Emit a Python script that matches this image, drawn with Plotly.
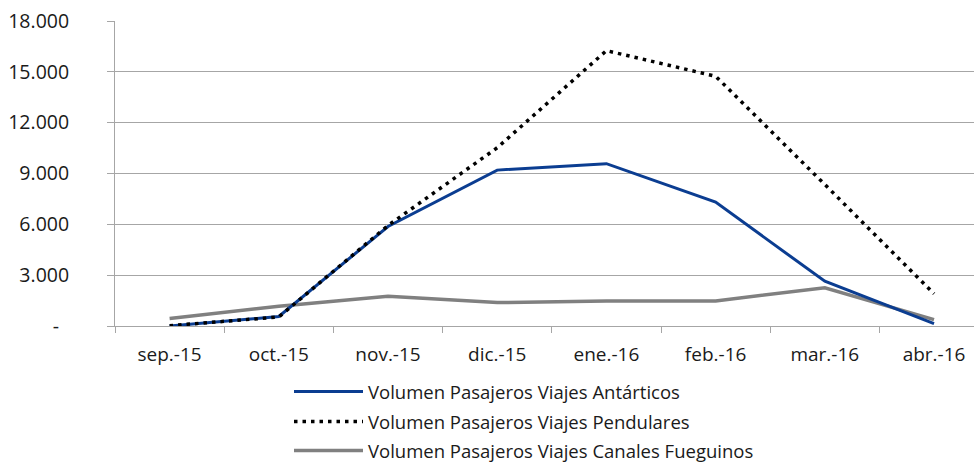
import plotly.graph_objects as go

categories = ["sep.-15", "oct.-15", "nov.-15", "dic.-15", "ene.-16", "feb.-16", "mar.-16", "abr.-16"]
antarticos = [0, 560, 5870, 9200, 9580, 7310, 2640, 140]
pendulares = [20, 530, 5930, 10520, 16250, 14740, 8350, 1900]
fueguinos = [440, 1170, 1750, 1380, 1480, 1480, 2260, 380]

series_names = [
    "Volumen Pasajeros Viajes Antárticos",
    "Volumen Pasajeros Viajes Pendulares",
    "Volumen Pasajeros Viajes Canales Fueguinos",
]

y_tickvals = [0, 3000, 6000, 9000, 12000, 15000, 18000]
y_ticktext = ["-\u00a0\u00a0", "3.000", "6.000", "9.000", "12.000", "15.000", "18.000"]

FONT = "Open Sans"
TXT = "#1a1a1a"
GRID = "#a6a6a6"

fig = go.Figure()
fig.add_trace(go.Scatter(x=categories, y=fueguinos, mode="lines", name=series_names[2],
                         line=dict(color="#808080", width=3.5), legend="legend3"))
fig.add_trace(go.Scatter(x=categories, y=antarticos, mode="lines", name=series_names[0],
                         line=dict(color="#0b3d91", width=3), legend="legend"))
fig.add_trace(go.Scatter(x=categories, y=pendulares, mode="lines", name=series_names[1],
                         line=dict(color="#000000", width=3.5, dash="3.5px,5px"), legend="legend2"))

L, R, T, B = 115, 0, 21, 137
W, H = 974, 463
pw = W - L - R
ph = H - T - B

def lx(px):
    return (px - L) / pw

def ly(py):
    return (H - B - py) / ph

leg_common = dict(font=dict(family=FONT, size=18.5, color=TXT), bgcolor="rgba(0,0,0,0)",
                  xanchor="left", yanchor="middle", itemwidth=69, borderwidth=0)

fig.update_layout(
    width=W, height=H,
    margin=dict(l=L, r=R, t=T, b=B, autoexpand=False),
    paper_bgcolor="white", plot_bgcolor="white",
    font=dict(family=FONT, size=18, color=TXT),
    showlegend=True,
    hovermode=False,
    legend=dict(x=lx(289), y=ly(392), **leg_common),
    legend2=dict(x=lx(289), y=ly(422), **leg_common),
    legend3=dict(x=lx(289), y=ly(451), **leg_common),
    xaxis=dict(
        type="category", range=[-0.5, 7.366], automargin=False,
        showgrid=False, showline=True, linecolor=GRID, linewidth=1,
        ticks="outside", tickson="boundaries", ticklen=6, tickcolor=GRID, tickwidth=1,
        tickfont=dict(family=FONT, size=19, color=TXT), ticklabelstandoff=11,
    ),
    yaxis=dict(
        range=[0, 18000], tickvals=y_tickvals, ticktext=y_ticktext, automargin=False,
        showgrid=True, gridcolor=GRID, gridwidth=1,
        showline=True, linecolor=GRID, linewidth=1,
        ticks="outside", ticklen=7, tickcolor=GRID, tickwidth=1,
        tickfont=dict(family=FONT, size=19.5, color=TXT), ticklabelstandoff=34,
        zeroline=False,
    ),
)

fig.write_html(
    "out.html",
    config={"displayModeBar": False},
    post_script="document.body.style.margin='0';document.body.style.overflow='hidden';",
)
